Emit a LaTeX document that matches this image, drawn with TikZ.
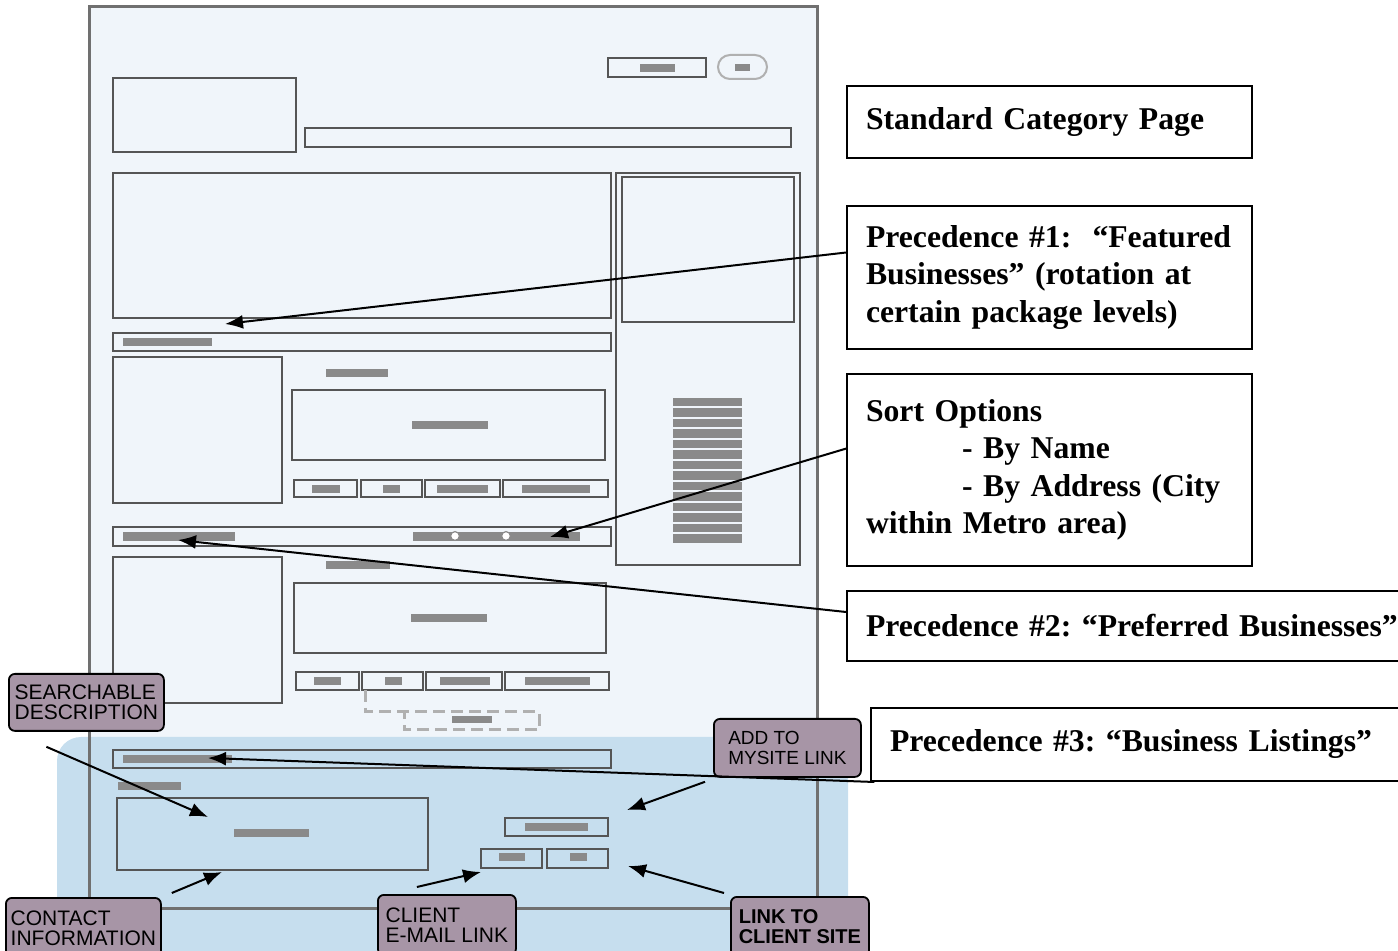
\documentclass[tikz,border=0pt]{standalone}
\usepackage{fontspec}
\setmainfont{Liberation Serif}[BoldFont={Liberation Serif Bold}]
\newfontfamily\lblfont{Liberation Sans}[BoldFont={Liberation Sans Bold}]
\usetikzlibrary{arrows.meta,calc}
\definecolor{PageClr}{HTML}{F0F5FA}
\definecolor{ZoneClr}{HTML}{C6DEEE}
\definecolor{WireClr}{HTML}{555555}
\definecolor{FrameClr}{HTML}{707070}
\definecolor{GreekClr}{HTML}{8A8A8A}
\definecolor{TagClr}{HTML}{A795A6}
\definecolor{DashClr}{HTML}{B0B0B0}
\hyphenpenalty=10000
\exhyphenpenalty=10000
\frenchspacing

\begin{document}
\begin{tikzpicture}[x=0.5pt,y=-0.5pt,
  wire/.style={draw=WireClr,line width=1pt},
  greek/.style={fill=GreekClr},
  note/.style={draw,line width=1pt,anchor=north west,align=left,inner xsep=9.5pt,inner ysep=0pt,
    font=\bfseries\fontsize{15.85}{18.75}\selectfont},
  tag/.style={draw=black,line width=0.9pt,fill=TagClr,rounded corners=3pt,anchor=north west,
    align=left,inner xsep=2pt,inner ysep=1pt,font=\lblfont\fontsize{10.5}{10}\selectfont},
  arr/.style={-{Latex[length=9pt,width=7pt]},line width=1pt}]

\useasboundingbox (0,0) rectangle (1398,951);

% page and listing zone
\fill[PageClr] (89,7) rectangle (817,908);
\fill[ZoneClr] (57,955) [rounded corners=12pt] -- (57,737) [sharp corners] -- (848,737) -- (848,955) -- cycle;
\draw[draw=FrameClr,line width=1.5pt] (89,7) rectangle (817,908);

% header
\draw[wire] (608,58) rectangle (706,77);
\fill[greek] (640,64) rectangle (675,72);
\draw[draw=DashClr,line width=1pt,rounded corners=6pt] (718,55) rectangle (767,79);
\fill[greek] (735,64) rectangle (750,71);
\draw[wire] (113,78) rectangle (296,152);
\draw[wire] (305,128) rectangle (791,147);

% featured area and right column
\draw[wire] (113,173) rectangle (611,318);
\draw[wire] (616,173) rectangle (800,565);
\draw[wire] (622,177) rectangle (794,322);
\foreach \r in {0,...,13}
  \fill[greek] (673,398+\r*10.5) rectangle (742,406.5+\r*10.5);
\draw[wire] (113,333) rectangle (611,351);
\fill[greek] (123,338) rectangle (212,346);

% listing 1
\draw[wire] (113,357) rectangle (282,503);
\fill[greek] (326,369) rectangle (388,377);
\draw[wire] (292,390) rectangle (605,460);
\fill[greek] (412,421) rectangle (488,429);
\foreach \a/\b/\c/\d in {294/357/312/340,361/422/383/400,425/500/437/488,503/608/522/590}{
  \draw[wire] (\a,480) rectangle (\b,497);
  \fill[greek] (\c,485) rectangle (\d,493);
}

% sort bar
\draw[wire] (113,527) rectangle (611,546);
\fill[greek] (123,532) rectangle (235,541);
\fill[greek] (413,532) rectangle (580,541);
\foreach \x in {455,506}
  \draw[draw=GreekClr,fill=white,line width=0.6pt] (\x,536) circle (2.2pt);

% listing 2
\draw[wire] (113,557) rectangle (282,703);
\fill[greek] (326,561) rectangle (390,569);
\draw[wire] (294,583) rectangle (606,653);
\fill[greek] (411,614) rectangle (487,622);
\foreach \a/\b/\c/\d in {296/359/314/341,362/423/385/402,426/502/440/490,505/609/525/590}{
  \draw[wire] (\a,672) rectangle (\b,690);
  \fill[greek] (\c,677) rectangle (\d,685);
}
\draw[draw=DashClr,line width=1.5pt,dash pattern=on 6pt off 3pt]
  (365,690) -- (365,712) -- (539,712) -- (539,730) -- (404,730) -- (404,712);
\fill[greek] (452,716) rectangle (492,723);

% business listing
\draw[wire] (113,750) rectangle (611,768);
\fill[greek] (123,755) rectangle (232,763);
\fill[greek] (118,782) rectangle (181,790);
\draw[wire] (117,798) rectangle (428,870);
\fill[greek] (234,829) rectangle (309,837);
\draw[wire] (505,818) rectangle (608,836);
\fill[greek] (525,823) rectangle (588,831);
\draw[wire] (481,849) rectangle (542,868);
\fill[greek] (499,853) rectangle (525,861);
\draw[wire] (547,849) rectangle (608,868);
\fill[greek] (570,853) rectangle (587,861);

% notes
\node[note,text width=183.5pt,minimum height=36pt] (catTitle) at (846,85) {Standard Category Page};
\node[note,text width=183.5pt,minimum height=71.5pt] (featNote) at (846,205)
  {\mbox{Precedence \#1:\ \ “Featured}\\Businesses” (rotation at\\certain package levels)};
\node[note,text width=183.5pt,minimum height=96pt] (sortNote) at (846,373)
  {Sort Options\\\hspace*{48pt}- By Name\\\hspace*{48pt}- By Address (City\\within Metro area)};
\node[note,text width=290pt,minimum height=35pt] (prefNote) at (846,590)
  {Precedence \#2: “Preferred Businesses”};
\node[note,text width=290pt,minimum height=36.5pt] (listNote) at (870,707)
  {Precedence \#3: “Business Listings”};

% tags
\node[tag,minimum width=77.5pt,minimum height=28.5pt] (searchLbl) at (8,673) {SEARCHABLE\\DESCRIPTION};
\node[tag,minimum width=73.5pt,minimum height=29pt,font=\lblfont\fontsize{9.5}{10}\selectfont] (addLbl) at (713,718) {ADD TO\\MYSITE LINK};
\node[tag,minimum width=77.5pt,minimum height=30pt] (contactLbl) at (5,897) {CONTACT\\INFORMATION};
\node[tag,minimum width=69pt,minimum height=30pt] (emailLbl) at (377,894) {CLIENT\\E-MAIL LINK};
\node[tag,minimum width=69pt,minimum height=30pt,font=\lblfont\bfseries\fontsize{10}{10}\selectfont] (linkLbl) at (730,896) {LINK TO\\CLIENT SITE};

% targets
\coordinate (featTip) at (225,324);
\coordinate (sortTip) at (550,537);
\coordinate (prefTip) at (178,540);
\coordinate (listTip) at (208,758);
\coordinate (descTip) at (208,817);
\coordinate (addTip) at (627,810);
\coordinate (contactTip) at (222,872);
\coordinate (emailTip) at (481,872);
\coordinate (linkTip) at (628,866);

\draw[arr] (featNote.173) -- (featTip);
\draw[arr] (sortNote.174) -- (sortTip);
\draw[arr] (prefNote.west |- 0,612) -- (prefTip);
\draw[arr] (listNote.187) -- (listTip);
\draw[arr] ([shift={(-40,15)}]searchLbl.south) -- (descTip);
\draw[arr] ([shift={(-8,4)}]addLbl.south west) -- (addTip);
\draw[arr] ([shift={(10,-4)}]contactLbl.north east) -- (contactTip);
\draw[arr] ([shift={(-30,-7)}]emailLbl.north) -- (emailTip);
\draw[arr] ([shift={(-6,-3)}]linkLbl.north west) -- (linkTip);
\end{tikzpicture}
\end{document}
